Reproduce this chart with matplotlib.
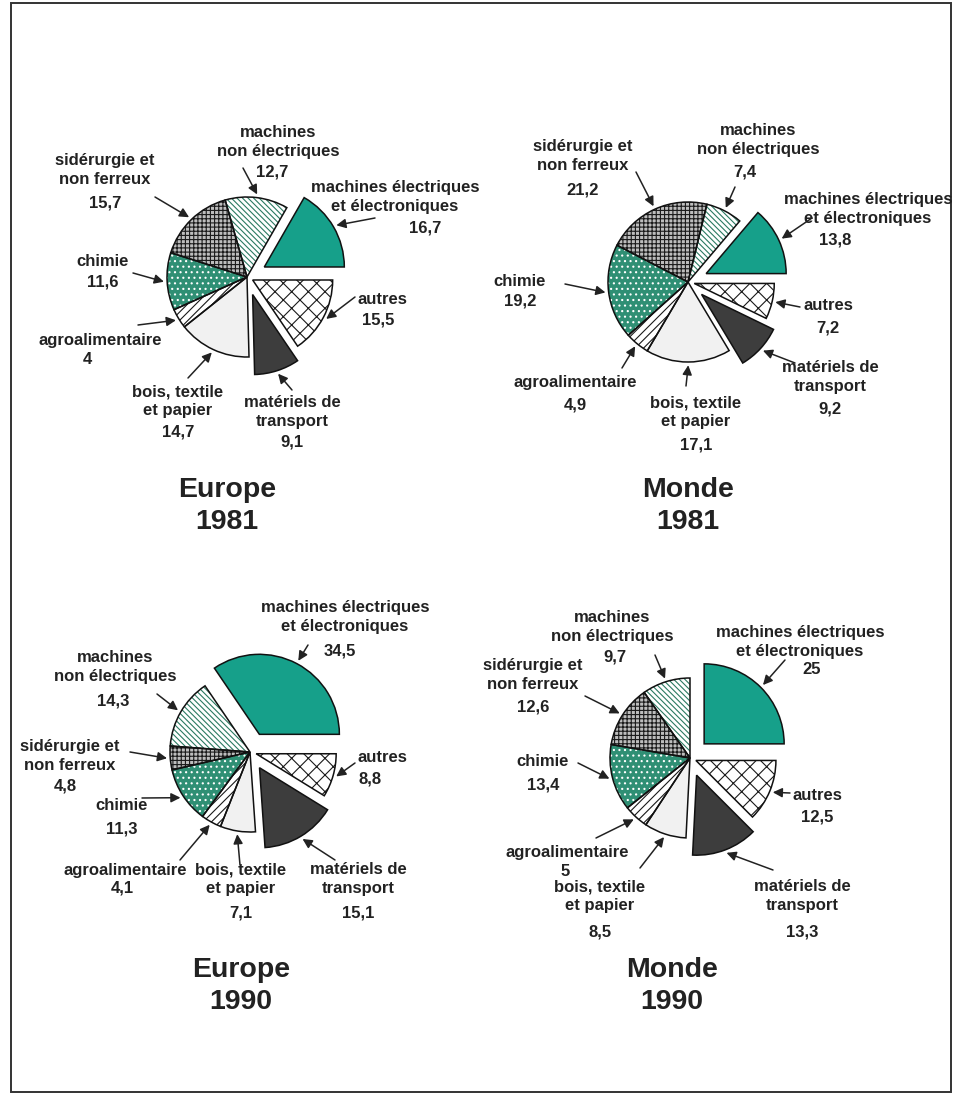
import matplotlib
matplotlib.use('Agg')
from matplotlib import pyplot as plt
from matplotlib.patches import Wedge, Rectangle
import numpy as np

# sectors, same order for every chart (counter-clockwise from 3 o'clock)
sectors = ['machines électriques\net électroniques', 'machines\nnon électriques',
           'sidérurgie et\nnon ferreux', 'chimie', 'agroalimentaire',
           'bois, textile\net papier', 'matériels de\ntransport', 'autres']

europe_1981 = [16.7, 12.7, 15.7, 11.6, 4, 14.7, 9.1, 15.5]
monde_1981 = [13.8, 7.4, 21.2, 19.2, 4.9, 17.1, 9.2, 7.2]
europe_1990 = [34.5, 14.3, 4.8, 11.3, 4.1, 7.1, 15.1, 8.8]
monde_1990 = [25, 9.7, 12.6, 13.4, 5, 8.5, 13.3, 12.5]

W, H = 958, 1094
TEXT = '#222222'
R = 80

# fill colour, hatch, hatch colour for each sector
styles = [
    ('#16a08a', None, None),
    ('white', '\\\\\\\\\\\\', '#2b7a62'),
    ('#bdbdbd', '++++', '#1a1a1a'),
    ('#2f8f74', '...', 'white'),
    ('white', '////', '#1a1a1a'),
    ('#f1f1f1', None, None),
    ('#3d3d3d', None, None),
    ('white', 'xx', '#1a1a1a'),
]
# offset of each wedge, as a share of the radius
explode = [0.25, 0, 0, 0, 0, 0, 0.23, 0.08]

plt.rcParams['font.family'] = ['Liberation Sans', 'DejaVu Sans']
plt.rcParams['hatch.linewidth'] = 0.8

fig = plt.figure(figsize=(W / 100, H / 100), dpi=100)
ax = fig.add_axes([0, 0, 1, 1])


def P(x, y):
    # layout positions are noted with y going down the page
    return (x, H - y)


# pie centre, title position and label layout (name pos, value pos, arrow tail)
charts = [
    dict(values=europe_1981, center=(247, 277), title=('Europe', '1981'), tpos=(227, 490),
         labels=[((395, 197), (425, 228), (375, 218)),
                 ((278, 142), (272, 172), (243, 168)),
                 ((105, 170), (105, 203), (155, 197)),
                 ((103, 262), (103, 282), (133, 273)),
                 ((100, 340), (87, 360), (138, 325)),
                 ((178, 401), (178, 432), (188, 378)),
                 ((292, 412), (292, 442), (292, 390)),
                 ((382, 299), (378, 320), (355, 297))]),
    dict(values=monde_1981, center=(688, 282), title=('Monde', '1981'), tpos=(688, 490),
         labels=[((868, 209), (835, 240), (812, 218)),
                 ((758, 140), (745, 172), (735, 187)),
                 ((583, 156), (583, 190), (636, 172)),
                 ((520, 282), (520, 301), (565, 284)),
                 ((575, 382), (575, 405), (622, 368)),
                 ((696, 412), (696, 445), (686, 386)),
                 ((830, 377), (830, 409), (795, 363)),
                 ((828, 306), (828, 328), (800, 307))]),
    dict(values=europe_1990, center=(250, 752), title=('Europe', '1990'), tpos=(241, 970),
         labels=[((345, 617), (340, 651), (308, 645)),
                 ((115, 667), (113, 701), (157, 694)),
                 ((70, 756), (65, 786), (130, 752)),
                 ((122, 806), (122, 829), (142, 798)),
                 ((125, 870), (122, 888), (180, 860)),
                 ((241, 879), (241, 913), (240, 865)),
                 ((358, 879), (358, 913), (335, 860)),
                 ((382, 757), (370, 779), (355, 763))]),
    dict(values=monde_1990, center=(690, 758), title=('Monde', '1990'), tpos=(672, 970),
         labels=[((800, 642), (812, 670), (785, 660)),
                 ((612, 627), (615, 657), (655, 655)),
                 ((533, 675), (533, 707), (585, 696)),
                 ((543, 762), (543, 785), (578, 763)),
                 ((567, 852), (565, 871), (596, 838)),
                 ((600, 896), (600, 932), (640, 868)),
                 ((802, 896), (802, 932), (773, 870)),
                 ((817, 795), (817, 817), (790, 793))]),
]

for ch in charts:
    # pie() takes the explode offset in data units, here pixels
    wedges, _ = ax.pie(ch['values'], explode=[e * R for e in explode], startangle=0,
                       counterclock=True, center=P(*ch['center']), radius=R, frame=True,
                       colors=[s[0] for s in styles],
                       wedgeprops=dict(linewidth=0, edgecolor='none'))
    for w, (fc, hatch, hc) in zip(wedges, styles):
        if hatch:
            ax.add_patch(Wedge(w.center, w.r, w.theta1, w.theta2, facecolor='none',
                               edgecolor=hc, hatch=hatch, linewidth=0, zorder=2))
        ax.add_patch(Wedge(w.center, w.r, w.theta1, w.theta2, facecolor='none',
                           edgecolor='#111111', linewidth=1.1, zorder=3))

    for w, name, v, (npos, vpos, tail) in zip(wedges, sectors, ch['values'], ch['labels']):
        ax.text(*P(*npos), name, ha='center', va='center', fontsize=12,
                fontweight='bold', color=TEXT, linespacing=1.3)
        ax.text(*P(*vpos), f'{v:g}'.replace('.', ','), ha='center', va='center',
                fontsize=12, fontweight='bold', color=TEXT)
        mid = np.deg2rad((w.theta1 + w.theta2) / 2)
        head = (w.center[0] + w.r * 1.04 * np.cos(mid), w.center[1] + w.r * 1.04 * np.sin(mid))
        ax.annotate('', xy=head, xytext=P(*tail),
                    arrowprops=dict(arrowstyle='-|>', color=TEXT, lw=1.1,
                                    mutation_scale=14, shrinkA=0, shrinkB=0))

    tx, ty = ch['tpos']
    ax.text(*P(tx, ty), ch['title'][0], ha='center', va='center', fontsize=20.5,
            fontweight='bold', color=TEXT)
    ax.text(*P(tx, ty + 32), ch['title'][1], ha='center', va='center', fontsize=20.5,
            fontweight='bold', color=TEXT)

# page frame
ax.add_patch(Rectangle((11, H - 1092), 940, 1089, facecolor='none',
                       edgecolor='#333333', linewidth=1.4))

ax.set_xlim(0, W)
ax.set_ylim(0, H)
ax.set_aspect('auto')
ax.axis('off')

fig.savefig('out.png', dpi=100)
